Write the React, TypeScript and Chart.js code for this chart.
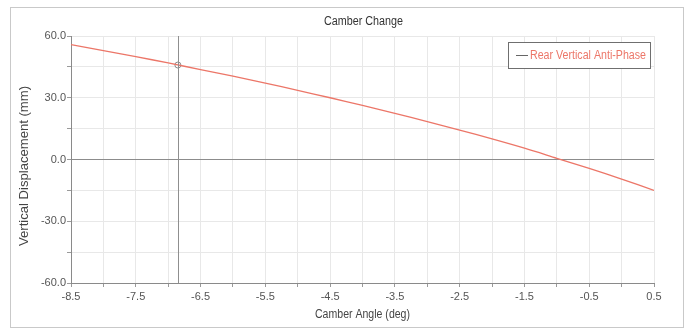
import React, { useEffect, useRef } from "react";
import { Chart, registerables } from "chart.js";

Chart.register(...registerables);

// Camber angle (deg) sampled every 0.5 deg
const camberAngles = [
  -8.5, -8.0, -7.5, -7.0, -6.5, -6.0, -5.5, -5.0, -4.5, -4.0,
  -3.5, -3.0, -2.5, -2.0, -1.5, -1.0, -0.5, 0.0, 0.5,
];
// Vertical displacement (mm) for the rear vertical anti-phase case
const verticalDisplacement = [
  55.8, 52.9, 50.0, 46.9, 43.7, 40.5, 37.1, 33.6, 30.0, 26.3,
  22.4, 18.4, 14.3, 10.0, 5.5, 0.6, -4.3, -9.5, -15.0,
];
// Cursor position read-out
const cursorAngle = [-6.85];
const cursorDisplacement = [45.9];

const seriesName = "Rear Vertical Anti-Phase";
const chartTitle = "Camber Change";
const xTitle = "Camber Angle (deg)";
const yTitle = "Vertical Displacement (mm)";

const FONT = "'Liberation Sans', Arial, sans-serif";
const LINE_COLOR = "rgb(236,118,104)";

// Draws text squeezed or stretched horizontally to a given width
function fitText(ctx: CanvasRenderingContext2D, text: string, cx: number, cy: number, w: number, align: "center" | "left") {
  const m = ctx.measureText(text).width;
  const k = w / m;
  ctx.save();
  ctx.translate(cx, cy);
  ctx.scale(k, 1);
  ctx.textAlign = align;
  ctx.fillText(text, 0, 0);
  ctx.restore();
}

const decorations = {
  id: "decorations",
  beforeDraw(chart: any) {
    const { ctx, width, height } = chart;
    ctx.save();
    ctx.fillStyle = "#ffffff";
    ctx.fillRect(0, 0, width, height);
    ctx.strokeStyle = "#c9c9c9";
    ctx.lineWidth = 1;
    ctx.strokeRect(10.5, 7.5, 673, 320);
    ctx.restore();
  },
  afterDatasetsDraw(chart: any) {
    const { ctx, chartArea, scales } = chart;
    const x = scales.x;
    ctx.save();
    // vertical cursor line
    const cx = Math.round(x.getPixelForValue(cursorAngle[0])) + 0.5;
    ctx.strokeStyle = "#8f8f8f";
    ctx.lineWidth = 1;
    ctx.beginPath();
    ctx.moveTo(cx, chartArea.top);
    ctx.lineTo(cx, chartArea.bottom);
    ctx.stroke();
    ctx.restore();
  },
  afterDraw(chart: any) {
    const { ctx, chartArea } = chart;
    const mid = (chartArea.left + chartArea.right) / 2;
    ctx.save();
    ctx.textBaseline = "middle";
    ctx.fillStyle = "#333333";
    ctx.font = `12px ${FONT}`;
    fitText(ctx, chartTitle, mid + 1, 22, 79, "center");
    ctx.fillStyle = "#444444";
    fitText(ctx, xTitle, mid, 315, 95, "center");
    ctx.translate(25, 166);
    ctx.rotate(-Math.PI / 2);
    fitText(ctx, yTitle, 0, 0, 160, "center");
    ctx.restore();

    // legend box
    ctx.save();
    const lx = 508.5, ly = 42.5, lw = 142, lh = 26;
    ctx.fillStyle = "#ffffff";
    ctx.fillRect(lx, ly, lw, lh);
    ctx.strokeStyle = "#6f6f6f";
    ctx.lineWidth = 1;
    ctx.strokeRect(lx, ly, lw, lh);
    ctx.strokeStyle = "#666666";
    ctx.beginPath();
    ctx.moveTo(516, 55.5);
    ctx.lineTo(528, 55.5);
    ctx.stroke();
    ctx.fillStyle = LINE_COLOR;
    ctx.font = `12px ${FONT}`;
    ctx.textBaseline = "middle";
    fitText(ctx, seriesName, 530, 56, 116, "left");
    ctx.restore();
  },
};

export default function App() {
  const canvasRef = useRef<HTMLCanvasElement | null>(null);

  useEffect(() => {
    if (!canvasRef.current) return;
    const chart = new Chart(canvasRef.current, {
      type: "scatter",
      data: {
        datasets: [
          {
            label: seriesName,
            data: camberAngles.map((a, i) => ({ x: a, y: verticalDisplacement[i] })),
            showLine: true,
            borderColor: LINE_COLOR,
            borderWidth: 1.3,
            pointRadius: 0,
            tension: 0.3,
          },
          {
            label: "cursor",
            data: cursorAngle.map((a, i) => ({ x: a, y: cursorDisplacement[i] })),
            pointRadius: 3,
            pointBorderColor: "#8a8a8a",
            pointBackgroundColor: "#ffffff",
            pointBorderWidth: 1,
          },
        ],
      },
      options: {
        responsive: false,
        animation: false,
        devicePixelRatio: 1,
        layout: { padding: { left: 0, right: 33, top: 36, bottom: 0 } },
        plugins: {
          legend: { display: false },
          title: { display: false },
          tooltip: { enabled: false },
        },
        scales: {
          x: {
            type: "linear",
            min: -8.5,
            max: 0.5,
            border: { color: "#8a8a8a", width: 1 },
            grid: {
              color: "#e8e8e8",
              tickLength: 4,
              tickColor: "#9a9a9a",
            },
            afterFit: (s: any) => { s.height = 46; },
            afterBuildTicks: (s: any) => {
              const t = [];
              for (let v = -8.5; v <= 0.5001; v += 0.5) t.push({ value: Math.round(v * 10) / 10 });
              s.ticks = t;
            },
            ticks: {
              padding: 3,
              maxRotation: 0,
              autoSkip: false,
              color: "#555555",
              font: { family: FONT, size: 11 },
              callback: (v: any) => {
                const n = Number(v);
                return Math.abs((n + 8.5) % 1) < 1e-6 ? n.toFixed(1) : "";
              },
            },
          },
          y: {
            min: -60,
            max: 60,
            border: { color: "#8a8a8a", width: 1 },
            grid: {
              color: (c: any) => (c.tick && c.tick.value === 0 ? "#8c8c8c" : "#e8e8e8"),
              tickLength: 4,
              tickColor: "#9a9a9a",
            },
            afterFit: (s: any) => { s.width = 71; },
            ticks: {
              stepSize: 15,
              padding: 1,
              autoSkip: false,
              color: "#555555",
              font: { family: FONT, size: 11 },
              callback: (v: any) => (Number(v) % 30 === 0 ? Number(v).toFixed(1) : ""),
            },
          },
        },
      },
      plugins: [decorations],
    });
    return () => chart.destroy();
  }, []);

  return (
    <div style={{ position: "fixed", left: 0, top: 0, width: 687, height: 329, background: "#fff" }}>
      <canvas ref={canvasRef} width={687} height={329} style={{ display: "block" }} />
    </div>
  );
}
